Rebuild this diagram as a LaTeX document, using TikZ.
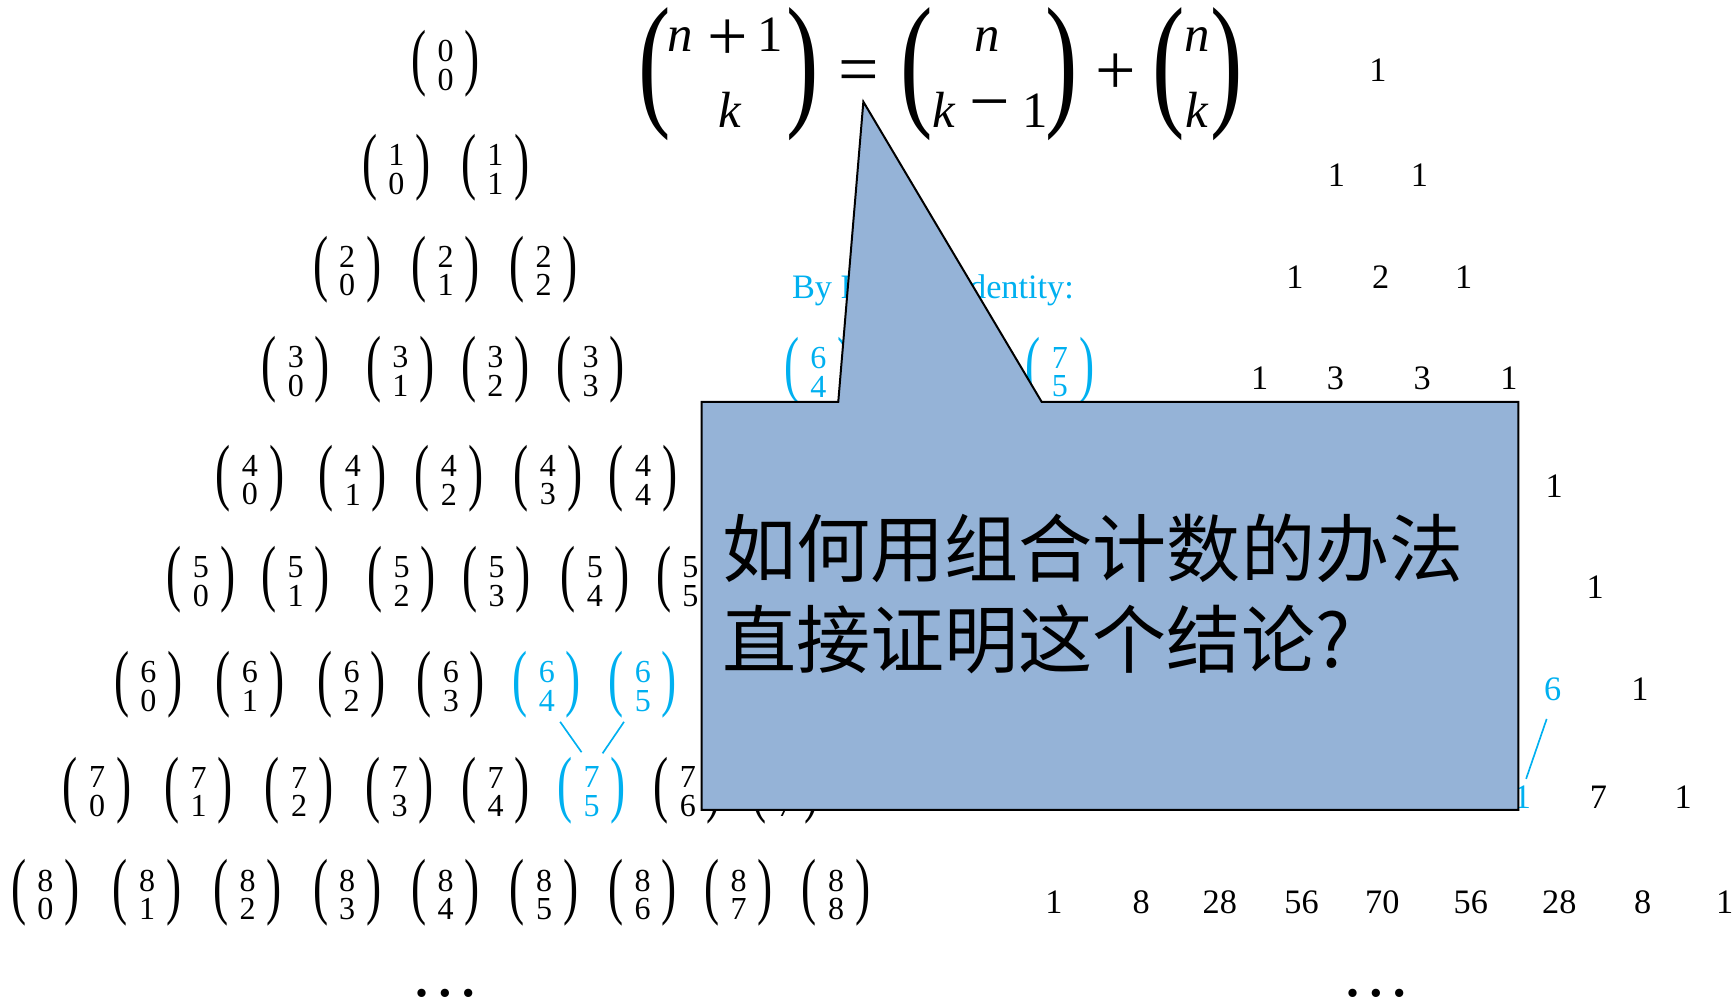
\documentclass[tikz,border=0pt]{standalone}
\usepackage{graphicx}
\usepackage{fontspec}
\setmainfont{Liberation Serif}
\newfontfamily\cjk{Noto Sans CJK SC}
\definecolor{cblue}{HTML}{00B0F0}
\definecolor{cfill}{HTML}{95B3D7}
\newcommand\myparl{\hbox{\fontsize{41}{41}\selectfont\scalebox{1}[1.63]{(}}}
\newcommand\myparr{\hbox{\fontsize{41}{41}\selectfont\scalebox{1}[1.63]{)}}}
\newcommand\bn[2]{$\vcenter{\myparl}\kern10pt\vcenter{\vbox{\kern3pt\fontsize{29}{26}\selectfont\hbox to 14.5pt{\hss#1\hss}\hbox to 14.5pt{\hss#2\hss}}}\kern10pt\vcenter{\myparr}$}
\newcommand\mybigparl{\hbox{\fontsize{88}{88}\selectfont\scalebox{1}[1.51]{(}}}
\newcommand\mybigparr{\hbox{\fontsize{88}{88}\selectfont\scalebox{1}[1.51]{)}}}
\tikzset{
  bin/.style={inner sep=0pt, anchor=center},
  hl/.style={text=cblue},
  num/.style={inner sep=0pt, anchor=base, font=\fontsize{31}{31}\selectfont},
  fvar/.style={inner sep=0pt, anchor=base, font=\fontsize{46}{46}\selectfont\itshape},
  fdig/.style={inner sep=0pt, anchor=base, font=\fontsize{46}{46}\selectfont},
  fop/.style={inner sep=0pt, anchor=center, font=\fontsize{65}{65}\selectfont},
  bpar/.style={inner sep=0pt, anchor=center},
  link/.style={draw=cblue, line width=1.5pt},
  callout/.style={fill=cfill, draw=black, line width=1.8pt, line join=miter},
  qtext/.style={inner sep=0pt, anchor=base west, font=\cjk\fontsize{67}{67}\selectfont},
  dotsty/.style={inner sep=0pt, anchor=base, font=\fontsize{63}{63}\selectfont},
  sm/.style={inner sep=0pt, anchor=center, font=\fontsize{31}{31}\selectfont, text=cblue},
}
\begin{document}
\begin{tikzpicture}[x=1pt,y=-1pt]
\useasboundingbox (0,0) rectangle (1568,904);
% ---- left triangle of binomials
\node[bin] (b00) at (403,57.5) {\bn{0}{0}};
\node[bin] (b10) at (358.5,151.5) {\bn{1}{0}};
\node[bin] (b11) at (448,151.5) {\bn{1}{1}};
\node[bin] (b20) at (314,243.5) {\bn{2}{0}};
\node[bin] (b21) at (403,243.5) {\bn{2}{1}};
\node[bin] (b22) at (491.5,243.5) {\bn{2}{2}};
\node[bin] (b30) at (267.5,334.6) {\bn{3}{0}};
\node[bin] (b31) at (362,334.6) {\bn{3}{1}};
\node[bin] (b32) at (448,334.6) {\bn{3}{2}};
\node[bin] (b33) at (534,334.6) {\bn{3}{3}};
\node[bin] (b40) at (226,432.7) {\bn{4}{0}};
\node[bin] (b41) at (319,432.7) {\bn{4}{1}};
\node[bin] (b42) at (406,432.7) {\bn{4}{2}};
\node[bin] (b43) at (495.5,432.7) {\bn{4}{3}};
\node[bin] (b44) at (581.5,432.7) {\bn{4}{4}};
\node[bin] (b50) at (181.7,524.3) {\bn{5}{0}};
\node[bin] (b51) at (267.4,524.3) {\bn{5}{1}};
\node[bin] (b52) at (363.3,524.3) {\bn{5}{2}};
\node[bin] (b53) at (449,524.3) {\bn{5}{3}};
\node[bin] (b54) at (538,524.3) {\bn{5}{4}};
\node[bin] (b55) at (624.4,524.3) {\bn{5}{5}};
\node[bin] (b60) at (134.2,619.5) {\bn{6}{0}};
\node[bin] (b61) at (226,619.5) {\bn{6}{1}};
\node[bin] (b62) at (318,619.5) {\bn{6}{2}};
\node[bin] (b63) at (407.7,619.5) {\bn{6}{3}};
\node[bin,hl] (b64) at (494.5,619.5) {\bn{6}{4}};
\node[bin,hl] (b65) at (581.3,619.5) {\bn{6}{5}};
\node[bin] (b70) at (87.8,714.7) {\bn{7}{0}};
\node[bin] (b71) at (179.7,714.7) {\bn{7}{1}};
\node[bin] (b72) at (270.4,714.7) {\bn{7}{2}};
\node[bin] (b73) at (361.3,714.7) {\bn{7}{3}};
\node[bin] (b74) at (448.1,714.7) {\bn{7}{4}};
\node[bin,hl] (b75) at (534.9,714.7) {\bn{7}{5}};
\node[bin] (b76) at (622,714.7) {\bn{7}{6}};
\node[bin] (b77) at (710,714.7) {\bn{7}{7}};
\node[bin] (b80) at (41,807.7) {\bn{8}{0}};
\node[bin] (b81) at (133,807.7) {\bn{8}{1}};
\node[bin] (b82) at (224,807.7) {\bn{8}{2}};
\node[bin] (b83) at (314,807.7) {\bn{8}{3}};
\node[bin] (b84) at (403,807.7) {\bn{8}{4}};
\node[bin] (b85) at (492,807.7) {\bn{8}{5}};
\node[bin] (b86) at (581,807.7) {\bn{8}{6}};
\node[bin] (b87) at (668,807.7) {\bn{8}{7}};
\node[bin] (b88) at (756,807.7) {\bn{8}{8}};
\node[dotsty] (ldots) at (402.3,901) {…};
\draw[link] ([shift={(12,2.7)}]b64.south) -- ([shift={(-9,-4)}]b75.north);
\draw[link] ([shift={(-17,2.7)}]b65.south) -- ([shift={(10,-3)}]b75.north);
% ---- Pascal identity (blue, middle)
\node[inner sep=0pt, anchor=base west, font=\fontsize{31}{31}\selectfont, text=cblue] (bp) at (716,270) {By Pascal’s identity:};
\node[bin,hl] (e64) at (740,335) {\bn{6}{4}};
\node[sm] (eplus) at (796,335) {+};
\node[bin,hl] (e65) at (850,335) {\bn{6}{5}};
\node[sm] (eeq) at (904,335) {=};
\node[bin,hl] (e75) at (958.5,335) {\bn{7}{5}};
% ---- right triangle of numbers
\node[num] (r00) at (1246,74) {1};
\node[num] (r10) at (1208.5,169) {1};
\node[num] (r11) at (1283.5,169) {1};
\node[num] (r20) at (1171,261) {1};
\node[num] (r21) at (1248.5,261) {2};
\node[num] (r22) at (1323.5,261) {1};
\node[num] (r30) at (1139,352) {1};
\node[num] (r31) at (1207.5,352) {3};
\node[num] (r32) at (1286,352) {3};
\node[num] (r33) at (1364.5,352) {1};
\node[num] (r44) at (1405.5,450) {1};
\node[num] (r55) at (1442.5,541) {1};
\node[num,text=cblue] (r65) at (1404,633) {6};
\node[num] (r66) at (1483,633) {1};
\node[num,text=cblue] (r75) at (1369,731) {21};
\node[num] (r76) at (1445.5,731) {7};
\node[num] (r77) at (1522,731) {1};
\node[num] (r80) at (953,826) {1};
\node[num] (r81) at (1032,826) {8};
\node[num] (r82) at (1103,826) {28};
\node[num] (r83) at (1177,826) {56};
\node[num] (r84) at (1250,826) {70};
\node[num] (r85) at (1330,826) {56};
\node[num] (r86) at (1410,826) {28};
\node[num] (r87) at (1485.5,826) {8};
\node[num] (r88) at (1559.5,826) {1};
\node[dotsty] (rdots) at (1245,901) {…};
\draw[link] ([shift={(-5.4,16.6)}]r65.south) -- ([shift={(11,-26.7)}]r75.base);
% ---- top formula
\node[bpar] (fl1) at (592,67.3) {\mybigparl};
\node[fvar] (fn1) at (615.5,47) {n};
\node[fop] (fp1) at (658.5,36.5) {+};
\node[fdig] (f11) at (696.5,47) {1};
\node[fvar] (fk1) at (659.5,115) {k};
\node[bpar] (fr1) at (726,67.3) {\mybigparr};
\node[fop] (feq) at (776.5,69.5) {=};
\node[bpar] (fl2) at (829,67.3) {\mybigparl};
\node[fvar] (fn2) at (893,47) {n};
\node[fvar] (fk2) at (853,115) {k};
\node[fop] (fm2) at (895,102) {−};
\node[fdig] (f12) at (936,115) {1};
\node[bpar] (fr2) at (960.5,67.3) {\mybigparr};
\node[fop] (fpl) at (1009,67) {+};
\node[bpar] (fl3) at (1057,67.3) {\mybigparl};
\node[fvar] (fn3) at (1082.5,47) {n};
\node[fvar] (fk3) at (1082.5,115) {k};
\node[bpar] (fr3) at (1109,67.3) {\mybigparr};
% ---- callout
\draw[callout] (634.4,363.5) -- (758,363.5) -- (780.7,92) -- (942,363.5) -- (1373,363.5) -- (1373,732.4) -- (634.4,732.4) -- cycle;
\node[qtext] (q1) at (653,521) {如何用组合计数的办法};
\node[qtext] (q2) at (653,604) {直接证明这个结论?};
\end{tikzpicture}
\end{document}
